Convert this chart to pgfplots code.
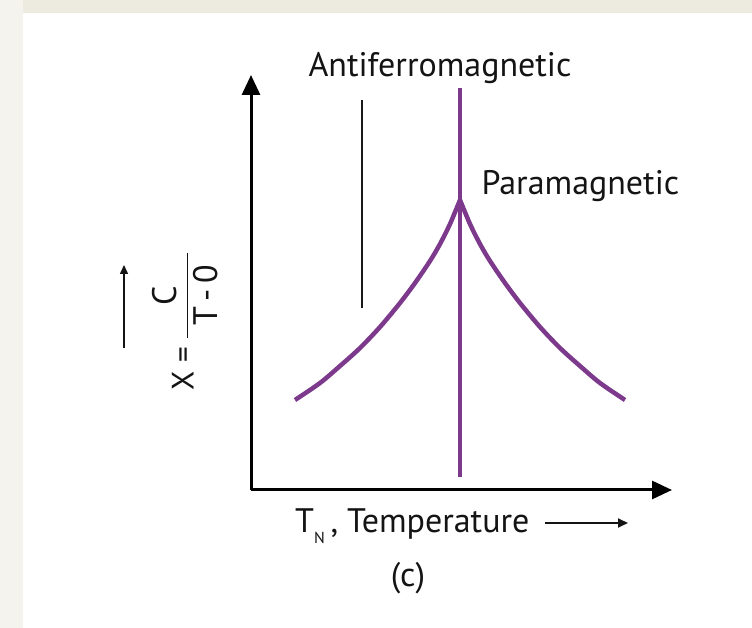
\documentclass[border=0pt]{standalone}
\usepackage{fontspec}
\setmainfont{PT Sans}
\usepackage{amsmath}
\usepackage{pgfplots}
\pgfplotsset{compat=1.18}
\usetikzlibrary{arrows.meta}
\definecolor{purp}{RGB}{125,58,140}
\definecolor{bgl}{RGB}{244,243,238}
\definecolor{bgt}{RGB}{237,234,223}
\definecolor{txt}{RGB}{20,20,20}
\newcommand{\fr}[1]{{\fontsize{34}{40}\selectfont #1}}
\begin{document}
\begin{tikzpicture}[x=1pt,y=1pt]
\fill[white] (0,0) rectangle (752,628);
\fill[bgt] (0,615) rectangle (752,628);
\fill[bgl] (0,0) rectangle (23,628);
\begin{axis}[at={(251pt,138pt)}, anchor=south west, scale only axis,
  width=421pt, height=415pt,
  xmin=251, xmax=672, ymin=138, ymax=553,
  axis lines=left,
  axis line style={line width=3pt, black, -{Triangle[length=20pt,width=18pt]}},
  xtick=\empty, ytick=\empty, clip=false]
% antiferromagnetic branch (left)
\addplot[purp, line width=4.5pt, smooth, tension=0.5] coordinates {
 (295,228) (320,245) (340,262) (360,280) (380,301) (400,325) (415,345) (430,367) (440,384) (450,404) (460,428)};
% paramagnetic branch (right)
\addplot[purp, line width=4.5pt, smooth, tension=0.5] coordinates {
 (460,428) (470,404) (480,384) (490,367) (505,345) (520,325) (540,301) (560,280) (580,262) (600,245) (625,228)};
% vertical line at T_N
\addplot[purp, line width=4.5pt] coordinates {(460,151) (460,540)};
% thin black line
\addplot[black!90, line width=2.2pt] coordinates {(362,320) (362,528)};
\node[anchor=base, text=txt, font=\fontsize{34}{40}\selectfont] at (axis cs:440,551) {Antiferromagnetic};
\node[anchor=base west, text=txt, font=\fontsize{34}{40}\selectfont] at (axis cs:478,433) {Paramagnetic};
\node[anchor=base west, text=txt, font=\fontsize{34}{40}\selectfont, inner sep=0pt] at (axis cs:295,95) {T\raisebox{-11pt}{\fontsize{16}{16}\selectfont N}\,, Temperature};
\draw[txt, line width=1.8pt, -{Triangle[length=10pt,width=9pt]}] (axis cs:545,105) -- (axis cs:628,105);
\node[text=txt, font=\fontsize{34}{40}\selectfont] at (axis cs:408,50) {(c)};
\node[rotate=90, text=txt, font=\fontsize{31}{36}\selectfont] at (axis cs:185,307) {X = $\genfrac{}{}{1.6pt}{0}{\makebox[85pt]{\fr{C}}}{\makebox[85pt]{\fr{T\,-\,0}}}$};
\draw[txt, line width=1.5pt, -{Triangle[length=9pt,width=8pt]}] (axis cs:124,280) -- (axis cs:124,363);
\end{axis}
\end{tikzpicture}
\end{document}
